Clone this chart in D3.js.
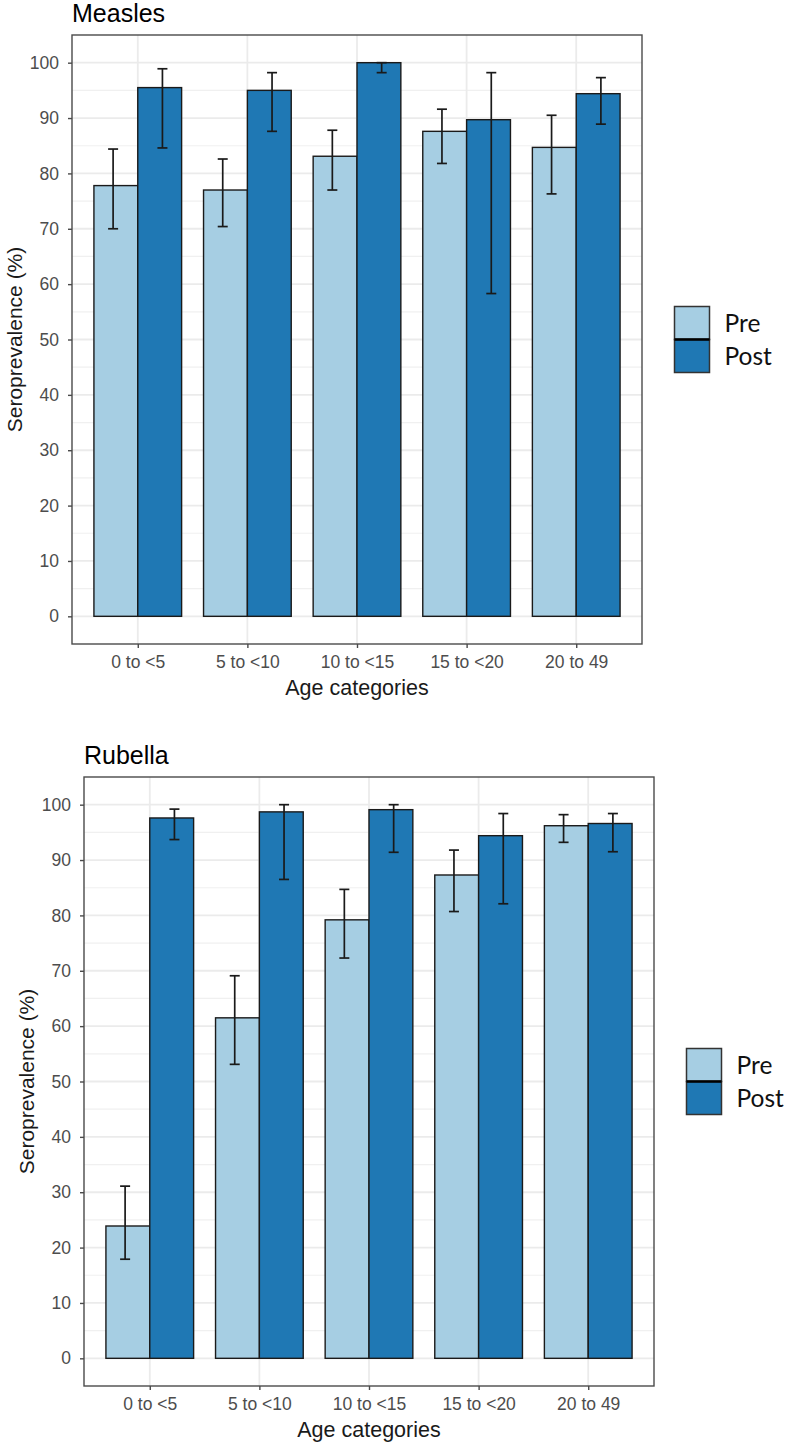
<!DOCTYPE html>
<html>
<head>
<meta charset="utf-8">
<script src="https://cdn.jsdelivr.net/npm/d3@7"></script>
<style>
  html, body { margin: 0; padding: 0; background: #ffffff; }
  svg { display: block; }
</style>
</head>
<body>
<svg id="chart" width="789" height="1444"></svg>
<script>
// ---------- DATA ----------
const categories = ["0 to <5", "5 to <10", "10 to <15", "15 to <20", "20 to 49"];
const groups = ["Pre", "Post"];
const yTicks = [0, 10, 20, 30, 40, 50, 60, 70, 80, 90, 100];
const yMinor = [5, 15, 25, 35, 45, 55, 65, 75, 85, 95];

const measlesPre    = [77.8, 77.0, 83.1, 87.6, 84.7];
const measlesPreLo  = [70.0, 70.4, 77.0, 81.8, 76.3];
const measlesPreHi  = [84.4, 82.6, 87.8, 91.6, 90.5];
const measlesPost   = [95.5, 95.0, 100.0, 89.7, 94.4];
const measlesPostLo = [84.6, 87.6, 98.2, 58.3, 88.9];
const measlesPostHi = [98.9, 98.2, 100.0, 98.2, 97.3];

const rubellaPre    = [23.9, 61.5, 79.2, 87.3, 96.2];
const rubellaPreLo  = [17.9, 53.1, 72.3, 80.7, 93.2];
const rubellaPreHi  = [31.1, 69.1, 84.7, 91.8, 98.2];
const rubellaPost   = [97.6, 98.7, 99.1, 94.4, 96.6];
const rubellaPostLo = [93.7, 86.5, 91.4, 82.1, 91.5];
const rubellaPostHi = [99.2, 100.0, 100.0, 98.4, 98.4];

const colors = { Pre: "#a6cee3", Post: "#1f78b4" };

// ---------- DRAW ----------
const svg = d3.select("#chart");

function buildRows(pre, preLo, preHi, post, postLo, postHi) {
  const rows = [];
  categories.forEach((c, i) => {
    rows.push({ cat: c, group: "Pre", value: pre[i], lo: preLo[i], hi: preHi[i] });
    rows.push({ cat: c, group: "Post", value: post[i], lo: postLo[i], hi: postHi[i] });
  });
  return rows;
}

function drawPanel(opts) {
  const g = svg.append("g").attr("transform", `translate(${opts.dx},${opts.dy})`);
  const left = 72, right = 642, top = 35, bottom = 644;

  const x = d3.scalePoint().domain(categories).range([left, right]).padding(0.6);
  const step = x.step();
  const y = d3.scaleLinear().domain([-5, 105]).range([bottom, top]);

  g.append("rect").attr("x", left).attr("y", top)
    .attr("width", right - left).attr("height", bottom - top).attr("fill", "#ffffff");

  g.selectAll(".minor").data(yMinor).enter().append("line")
    .attr("x1", left).attr("x2", right)
    .attr("y1", d => y(d)).attr("y2", d => y(d))
    .attr("stroke", "#f0f0f0").attr("stroke-width", 1.2);
  g.selectAll(".major").data(yTicks).enter().append("line")
    .attr("x1", left).attr("x2", right)
    .attr("y1", d => y(d)).attr("y2", d => y(d))
    .attr("stroke", "#ebebeb").attr("stroke-width", 1.8);
  g.selectAll(".vmajor").data(categories).enter().append("line")
    .attr("x1", d => x(d)).attr("x2", d => x(d))
    .attr("y1", top).attr("y2", bottom)
    .attr("stroke", "#ebebeb").attr("stroke-width", 1.8);

  const rows = opts.rows;
  const barW = 0.4 * step;
  const xg = d3.scaleBand().domain(groups).range([-barW, barW]);
  const errOff = { Pre: -0.225 * step, Post: 0.225 * step };
  const capHalf = 5;

  g.selectAll(".bar").data(rows).enter().append("rect")
    .attr("x", d => x(d.cat) + xg(d.group))
    .attr("y", d => y(d.value))
    .attr("width", xg.bandwidth())
    .attr("height", d => y(0) - y(d.value))
    .attr("fill", d => colors[d.group])
    .attr("stroke", "#1a1a1a").attr("stroke-width", 1.4);

  const eb = g.selectAll(".err").data(rows).enter().append("g")
    .attr("stroke", "#1a1a1a").attr("stroke-width", 1.7).attr("fill", "none");
  eb.append("line")
    .attr("x1", d => x(d.cat) + errOff[d.group]).attr("x2", d => x(d.cat) + errOff[d.group])
    .attr("y1", d => y(d.lo)).attr("y2", d => y(d.hi));
  eb.append("line")
    .attr("x1", d => x(d.cat) + errOff[d.group] - capHalf).attr("x2", d => x(d.cat) + errOff[d.group] + capHalf)
    .attr("y1", d => y(d.hi)).attr("y2", d => y(d.hi));
  eb.append("line")
    .attr("x1", d => x(d.cat) + errOff[d.group] - capHalf).attr("x2", d => x(d.cat) + errOff[d.group] + capHalf)
    .attr("y1", d => y(d.lo)).attr("y2", d => y(d.lo));

  g.append("rect").attr("x", left).attr("y", top)
    .attr("width", right - left).attr("height", bottom - top)
    .attr("fill", "none").attr("stroke", "#4a4a4a").attr("stroke-width", 1.4);

  const yAxis = d3.axisLeft(y).tickValues(yTicks).tickSize(4).tickPadding(9);
  const ya = g.append("g").attr("transform", `translate(${left},0)`).call(yAxis);
  const xAxis = d3.axisBottom(x).tickSize(4).tickPadding(8);
  const xa = g.append("g").attr("transform", `translate(0,${bottom})`).call(xAxis);
  [ya, xa].forEach(a => {
    a.select(".domain").remove();
    a.selectAll(".tick line").attr("stroke", "#4a4a4a").attr("stroke-width", 1.4);
    a.selectAll(".tick text")
      .attr("fill", "#4d4d4d")
      .style("font-family", "'Liberation Sans', Arial, sans-serif")
      .style("font-size", "17.5px");
  });

  g.append("text").attr("x", left).attr("y", 22)
    .text(opts.title)
    .style("font-family", "'Liberation Sans', Arial, sans-serif")
    .style("font-size", "25px").attr("fill", "#000");

  g.append("text")
    .attr("transform", `translate(${opts.yTitleX},${(top + bottom) / 2}) rotate(-90)`)
    .attr("text-anchor", "middle")
    .text("Seroprevalence (%)")
    .style("font-family", "'Liberation Sans', Arial, sans-serif")
    .style("font-size", "21px").attr("fill", "#1a1a1a");
  g.append("text")
    .attr("x", (left + right) / 2).attr("y", bottom + 51)
    .attr("text-anchor", "middle")
    .text("Age categories")
    .style("font-family", "'Liberation Sans', Arial, sans-serif")
    .style("font-size", "21.5px").attr("fill", "#1a1a1a");

  const lx = right + 32.5, keyW = 35, keyH = 33;
  const ly = (top + bottom) / 2 - keyH;
  const lg = g.append("g");
  groups.forEach((grp, i) => {
    lg.append("rect")
      .attr("x", lx).attr("y", ly + i * keyH)
      .attr("width", keyW).attr("height", keyH)
      .attr("fill", colors[grp]).attr("stroke", "#333").attr("stroke-width", 1.5);
    lg.append("text")
      .attr("x", lx + keyW + 15).attr("y", ly + i * keyH + keyH / 2 + 8.5)
      .text(grp)
      .style("font-family", "Lato, 'Open Sans', sans-serif")
      .style("font-size", "24.5px").attr("fill", "#111");
  });
  lg.append("line")
    .attr("x1", lx).attr("x2", lx + keyW)
    .attr("y1", ly + keyH).attr("y2", ly + keyH)
    .attr("stroke", "#000").attr("stroke-width", 2.5);
}

drawPanel({
  dx: 0, dy: 0, title: "Measles", yTitleX: 22,
  rows: buildRows(measlesPre, measlesPreLo, measlesPreHi, measlesPost, measlesPostLo, measlesPostHi)
});
drawPanel({
  dx: 12, dy: 742, title: "Rubella", yTitleX: 22,
  rows: buildRows(rubellaPre, rubellaPreLo, rubellaPreHi, rubellaPost, rubellaPostLo, rubellaPostHi)
});
</script>
</body>
</html>
